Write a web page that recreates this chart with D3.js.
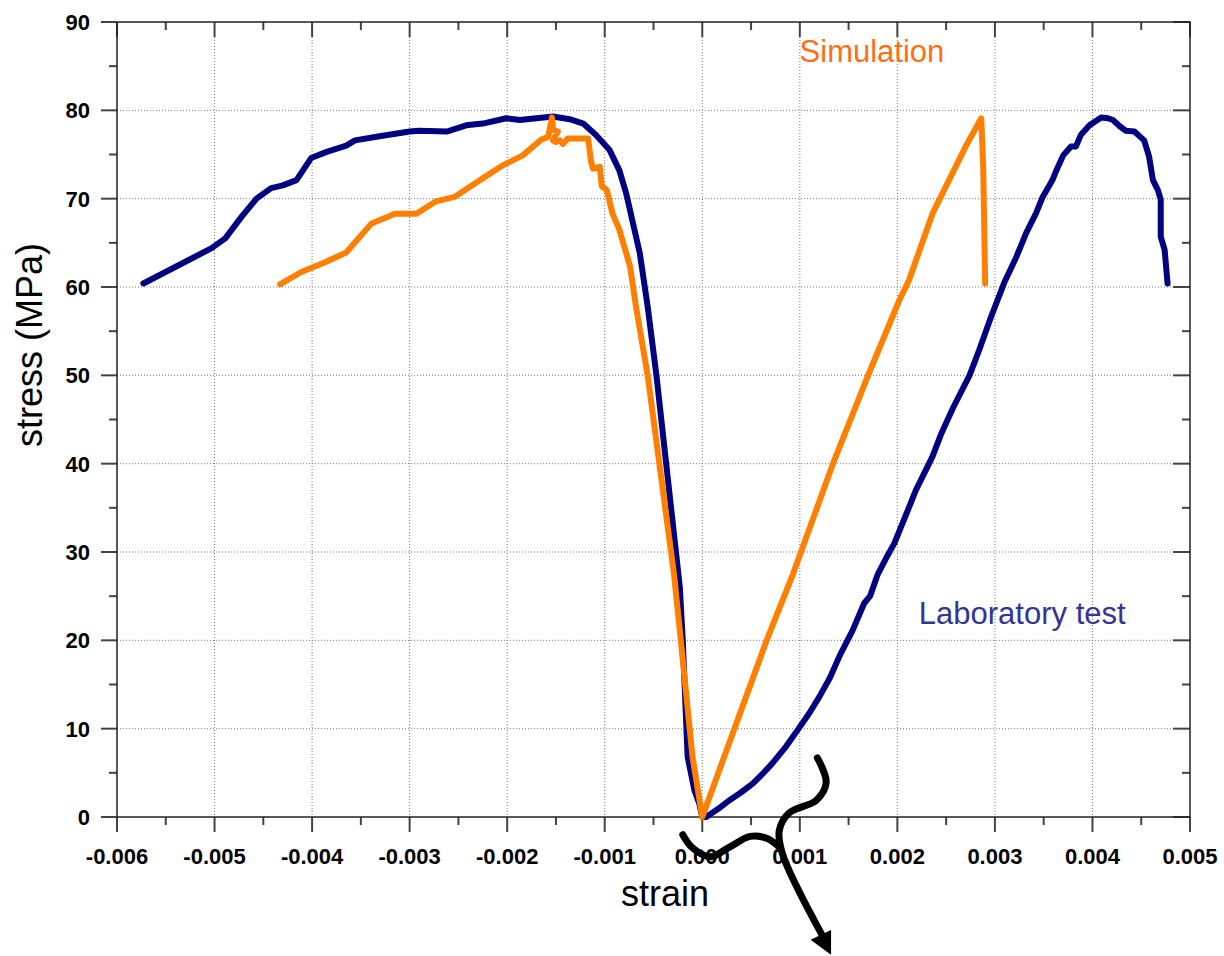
<!DOCTYPE html>
<html>
<head>
<meta charset="utf-8">
<script src="https://cdn.jsdelivr.net/npm/d3@7"></script>
<style>
  body { margin: 0; background: #fff; }
  svg { display: block; font-family: Arial, "Liberation Sans", sans-serif; }
  .tick-label { font-weight: bold; font-size: 22px; fill: #000; }
  .grid { stroke: #777; stroke-width: 1; stroke-dasharray: 1,2; }
</style>
</head>
<body>
<svg id="chart" width="1224" height="956"></svg>
<script>
// axis ticks and labels
const xTicks = [-0.006, -0.005, -0.004, -0.003, -0.002, -0.001, 0, 0.001, 0.002, 0.003, 0.004, 0.005];
const xTickLabels = ["-0.006", "-0.005", "-0.004", "-0.003", "-0.002", "-0.001", "0.000", "0.001", "0.002", "0.003", "0.004", "0.005"];
const xMinor = [-0.0055, -0.0045, -0.0035, -0.0025, -0.0015, -0.0005, 0.0005, 0.0015, 0.0025, 0.0035, 0.0045];
const yTicks = [0, 10, 20, 30, 40, 50, 60, 70, 80, 90];
const yTickLabels = ["0", "10", "20", "30", "40", "50", "60", "70", "80", "90"];
const yMinor = [5, 15, 25, 35, 45, 55, 65, 75, 85];

// laboratory test curve: [strain, stress MPa]
const labTest = [
  [-0.00573, 60.4], [-0.00503, 64.4], [-0.00489, 65.5], [-0.00472, 68.0], [-0.00457, 70.0],
  [-0.00442, 71.2], [-0.00430, 71.5], [-0.00416, 72.1], [-0.00401, 74.6], [-0.00385, 75.3],
  [-0.00365, 76.0], [-0.00356, 76.6], [-0.00334, 77.0], [-0.00300, 77.6], [-0.00290, 77.7],
  [-0.00262, 77.6], [-0.00242, 78.3], [-0.00225, 78.5], [-0.00201, 79.1], [-0.00187, 78.9],
  [-0.00170, 79.1], [-0.00153, 79.3], [-0.00136, 79.0], [-0.00122, 78.5], [-0.00109, 77.2],
  [-0.00095, 75.5], [-0.00085, 73.2], [-0.00078, 70.6], [-0.00071, 67.2], [-0.00064, 63.8],
  [-0.00060, 60.8], [-0.00056, 57.8], [-0.00047, 50.0], [-0.00037, 40.0], [-0.00028, 31.0],
  [-0.00023, 26.0], [-0.00020, 20.0], [-0.00017, 12.0], [-0.00015, 6.8], [-0.00008, 3.0],
  [-0.00003, 1.5], [0, 0], [0.00004, 0], [0.00016, 0.9], [0.00028, 1.9], [0.00040, 2.8],
  [0.00052, 3.8], [0.00062, 4.9], [0.00072, 6.1], [0.00086, 8.0], [0.00100, 10.2],
  [0.00110, 11.8], [0.00120, 13.6], [0.00131, 15.8], [0.00141, 18.3], [0.00154, 21.1],
  [0.00166, 24.2], [0.00172, 25.0], [0.00180, 27.5], [0.00188, 29.2], [0.00197, 31.0],
  [0.00211, 34.8], [0.00219, 37.0], [0.00236, 40.8], [0.00245, 43.4], [0.00257, 46.3],
  [0.00274, 50.0], [0.00284, 52.9], [0.00296, 56.6], [0.00310, 60.6], [0.00322, 63.4],
  [0.00332, 66.1], [0.00342, 68.3], [0.00349, 70.2], [0.00359, 72.1], [0.00363, 73.2],
  [0.00370, 74.9], [0.00378, 75.9], [0.00383, 75.9], [0.00388, 77.2], [0.00397, 78.3],
  [0.00409, 79.2], [0.00416, 79.1], [0.00421, 78.9], [0.00428, 78.2], [0.00434, 77.7],
  [0.00443, 77.6], [0.00453, 76.6], [0.00458, 74.8], [0.00462, 72.1], [0.00467, 71.0],
  [0.00470, 69.9], [0.00470, 65.7], [0.00474, 64.2], [0.00477, 60.4]
];

// simulation curve: [strain, stress MPa]
const simulation = [
  [-0.00433, 60.3], [-0.00411, 61.7], [-0.00389, 62.7], [-0.00365, 63.9], [-0.00339, 67.2],
  [-0.00315, 68.3], [-0.00293, 68.3], [-0.00273, 69.7], [-0.00254, 70.2], [-0.00225, 72.3],
  [-0.00204, 73.8], [-0.00184, 74.9], [-0.00165, 76.7], [-0.00158, 77.0], [-0.00154, 79.2],
  [-0.00153, 77.8], [-0.00148, 77.6], [-0.00153, 76.6], [-0.00150, 76.4], [-0.00146, 76.6],
  [-0.00143, 76.2], [-0.00138, 76.8], [-0.00117, 76.8], [-0.00114, 74.2], [-0.00112, 73.4],
  [-0.00105, 73.6], [-0.00103, 71.4], [-0.00098, 71.0], [-0.00092, 68.3], [-0.00085, 66.5],
  [-0.00074, 62.3], [-0.00068, 57.8], [-0.00056, 50.0], [-0.00044, 40.0], [-0.00029, 27.5],
  [-0.00022, 20.0], [-0.00010, 6.8], [0, 0], [0.00066, 20.0], [0.00093, 27.5],
  [0.00134, 40.0], [0.00170, 50.0], [0.00202, 58.5], [0.00212, 60.8], [0.00236, 68.3],
  [0.00253, 72.1], [0.00270, 75.9], [0.00286, 79.1], [0.00288, 73.6], [0.00290, 60.4]
];

// hand drawn arrow annotation below the origin, in [strain, stress]
const arrowWave = [[-0.00020, -2.0], [-0.00010, -3.5], [0.00008, -4.5], [0.00028, -3.4], [0.00049, -2.2], [0.00066, -2.4], [0.00079, -3.4]];
const arrowStem = [[0.00118, 6.7], [0.00127, 3.9], [0.00117, 1.9], [0.00089, 0.45], [0.00079, -1.5], [0.00082, -4.1], [0.00123, -13.4]];
const arrowHead = [[0.00132, -15.6], [0.00111, -13.9], [0.00132, -12.8]];

const margin = {top: 22, right: 34, bottom: 139, left: 117};
const width = 1224 - margin.left - margin.right;
const height = 956 - margin.top - margin.bottom;

const svg = d3.select("#chart");
const g = svg.append("g").attr("transform", `translate(${margin.left},${margin.top})`);

const x = d3.scaleLinear().domain([-0.006, 0.005]).range([0, width]);
const y = d3.scaleLinear().domain([0, 90]).range([height, 0]);

// grid
g.selectAll("line.vgrid").data(xTicks.slice(1, -1)).enter().append("line")
  .attr("class", "grid").attr("x1", d => x(d)).attr("x2", d => x(d)).attr("y1", 0).attr("y2", height);
g.selectAll("line.hgrid").data(yTicks.slice(1, -1)).enter().append("line")
  .attr("class", "grid").attr("y1", d => y(d)).attr("y2", d => y(d)).attr("x1", 0).attr("x2", width);

// ticks (bottom/left outward, top/right inward)
function tickLines(vals, len, side) {
  g.selectAll(null).data(vals).enter().append("line")
    .attr("stroke", "#444").attr("stroke-width", 2)
    .each(function(d) {
      let s = d3.select(this);
      if (side === "bottom") s.attr("x1", x(d)).attr("x2", x(d)).attr("y1", height).attr("y2", height + len);
      if (side === "top") s.attr("x1", x(d)).attr("x2", x(d)).attr("y1", 0).attr("y2", len);
      if (side === "left") s.attr("y1", y(d)).attr("y2", y(d)).attr("x1", 0).attr("x2", -len);
      if (side === "right") s.attr("y1", y(d)).attr("y2", y(d)).attr("x1", width).attr("x2", width - len);
    });
}
tickLines(xTicks, 15, "bottom"); tickLines(xMinor, 8, "bottom");
tickLines(xTicks, 15, "top"); tickLines(xMinor, 8, "top");
tickLines(yTicks, 16, "left"); tickLines(yMinor, 8, "left");
tickLines(yTicks, 17, "right"); tickLines(yMinor, 8, "right");

// frame
g.append("rect").attr("width", width).attr("height", height)
  .attr("fill", "none").attr("stroke", "#222").attr("stroke-width", 1.5);

// tick labels
g.selectAll("text.xl").data(xTicks).enter().append("text")
  .attr("class", "tick-label").attr("text-anchor", "middle")
  .attr("x", d => x(d)).attr("y", height + 47)
  .text((d, i) => xTickLabels[i]);
g.selectAll("text.yl").data(yTicks).enter().append("text")
  .attr("class", "tick-label").attr("text-anchor", "end")
  .attr("x", -27).attr("y", d => y(d)).attr("dy", "0.36em")
  .text((d, i) => yTickLabels[i]);

// axis titles
svg.append("text").attr("x", 665).attr("y", 906).attr("text-anchor", "middle")
  .attr("font-size", 36).text("strain");
svg.append("text").attr("transform", "translate(42,345) rotate(-90)").attr("text-anchor", "middle")
  .attr("font-size", 36).text("stress (MPa)");

// curves
const line = d3.line().x(d => x(d[0])).y(d => y(d[1]));
g.append("path").datum(labTest).attr("d", line)
  .attr("fill", "none").attr("stroke", "#000080").attr("stroke-width", 6)
  .attr("stroke-linejoin", "round").attr("stroke-linecap", "round");
g.append("path").datum(simulation).attr("d", line)
  .attr("fill", "none").attr("stroke", "#FF8000").attr("stroke-width", 6)
  .attr("stroke-linejoin", "round").attr("stroke-linecap", "round");

// series labels
g.append("text").attr("x", x(0.000998)).attr("y", y(85.5))
  .attr("font-size", 31).attr("fill", "#FF6E14").text("Simulation");
g.append("text").attr("x", x(0.00222)).attr("y", y(21.9))
  .attr("font-size", 31).attr("fill", "#333399").text("Laboratory test");

// arrow annotation
const curve = d3.line().x(d => x(d[0])).y(d => y(d[1])).curve(d3.curveCatmullRom);
g.append("path").datum(arrowWave).attr("d", curve)
  .attr("fill", "none").attr("stroke", "#000").attr("stroke-width", 7).attr("stroke-linecap", "round");
g.append("path").datum(arrowStem).attr("d", curve)
  .attr("fill", "none").attr("stroke", "#000").attr("stroke-width", 7).attr("stroke-linecap", "round");
g.append("path").datum(arrowHead).attr("d", d3.line().x(d => x(d[0])).y(d => y(d[1])))
  .attr("fill", "#000");
</script>
</body>
</html>
